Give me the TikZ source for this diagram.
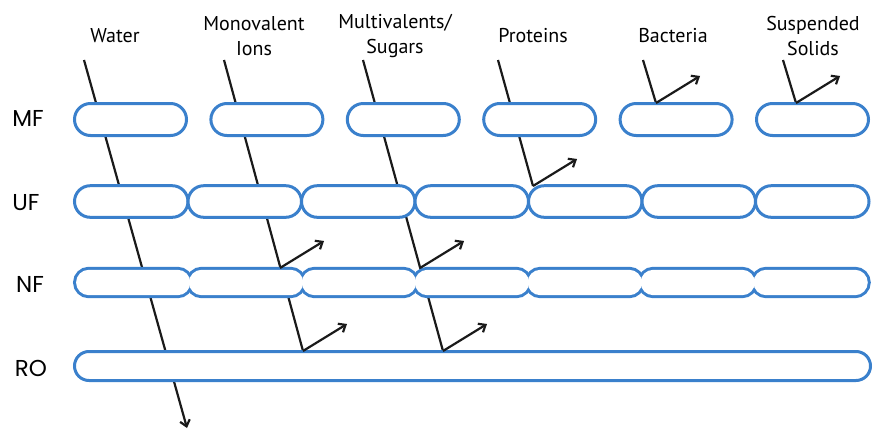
\documentclass[tikz,border=0pt]{standalone}
\usepackage{fontspec}
\setmainfont{PT Sans}
\newfontfamily\rowfont{Poppins}
\usepackage{xcolor}
\usetikzlibrary{arrows.meta,positioning,shapes.misc}
\definecolor{capblue}{RGB}{58,128,204}
\definecolor{flowblack}{RGB}{26,26,26}

\begin{document}
\begin{tikzpicture}[
  x=1pt,y=-1pt,
  >={Straight Barb[length=6pt,width=10pt]},
  lbl/.style={font=\fontsize{20}{25}\selectfont,align=center,inner sep=0pt},
  rowlbl/.style={font=\rowfont\fontsize{23}{27}\selectfont,inner sep=0pt},
  capsule/.style={rounded rectangle,draw=capblue,fill=white,line width=3pt,
              inner sep=0pt,outer sep=0pt},
  mfcap/.style={capsule,minimum width=112pt,minimum height=32pt},
  ufcap/.style={capsule,minimum width=113.5pt,minimum height=31.6pt},
  nfout/.style={rounded rectangle,draw=capblue,line width=6pt,inner sep=0pt,
                outer sep=0pt,minimum width=114.3pt,minimum height=25.4pt},
  nfin/.style={rounded rectangle,fill=white,inner sep=0pt,outer sep=0pt,
               minimum width=114.3pt,minimum height=25.4pt},
  flow/.style={draw=flowblack,line width=2.2pt}
]
\useasboundingbox (0,0) rectangle (875,431);

%% labels
\node[lbl] (water) at (115,36) {Water};
\node[lbl] (mono)  at (254,36) {Monovalent\\Ions};
\node[lbl] (multi) at (395,36) {Multivalents/\\Sugars};
\node[lbl] (prot)  at (533,36) {Proteins};
\node[lbl] (bact)  at (673,36) {Bacteria};
\node[lbl] (susp)  at (813,36) {Suspended\\Solids};

\node[rowlbl] (mfl) at (28,118) {MF};
\node[rowlbl] (ufl) at (26,203) {UF};
\node[rowlbl] (nfl) at (30,284) {NF};
\node[rowlbl] (rol) at (31,368) {RO};

%% flow points
\coordinate (waterS) at (84,60);
\coordinate (waterE) at (187,428);
\coordinate (monoS)  at (224,60);
\coordinate (monoNF) at (280,268);
\coordinate (monoRO) at (303,351);
\coordinate (multiS)  at (363,60);
\coordinate (multiNF) at (420,268);
\coordinate (multiRO) at (443,351);
\coordinate (protS)  at (498,60);
\coordinate (protUF) at (533,186);
\coordinate (bactS)  at (643,60);
\coordinate (bactMF) at (656,103);
\coordinate (suspS)  at (783,60);
\coordinate (suspMF) at (796,103);

\draw[flow,->] (waterS) -- (waterE);
\draw[flow] (monoS) -- (monoRO);
\draw[flow] (multiS) -- (multiRO);
\draw[flow] (protS) -- (protUF);
\draw[flow] (bactS) -- (bactMF);
\draw[flow] (suspS) -- (suspMF);

%% MF row
\node[mfcap] (mf1) at (130.5,119.5) {};
\node[mfcap,right=24.4pt of mf1] (mf2) {};
\node[mfcap,right=24.4pt of mf2] (mf3) {};
\node[mfcap,right=24.4pt of mf3] (mf4) {};
\node[mfcap,right=24.4pt of mf4] (mf5) {};
\node[mfcap,right=24.4pt of mf5] (mf6) {};

%% UF row
\node[ufcap] (uf1) at (131.25,201.5) {};
\node[ufcap,right=0pt of uf1] (uf2) {};
\node[ufcap,right=0pt of uf2] (uf3) {};
\node[ufcap,right=0pt of uf3] (uf4) {};
\node[ufcap,right=0pt of uf4] (uf5) {};
\node[ufcap,right=0pt of uf5] (uf6) {};
\node[ufcap,right=0pt of uf6] (uf7) {};

%% NF row (outline of the joined capsules)
\node[nfout] (nfo1) at (133.2,282.5) {};
\node[nfout,right=-1.4pt of nfo1] (nfo2) {};
\node[nfout,right=-1.4pt of nfo2] (nfo3) {};
\node[nfout,right=-1.4pt of nfo3] (nfo4) {};
\node[nfout,right=-1.4pt of nfo4] (nfo5) {};
\node[nfout,right=-1.4pt of nfo5] (nfo6) {};
\node[nfout,right=-1.4pt of nfo6] (nfo7) {};
\node[nfin] (nf1) at (nfo1) {};
\node[nfin] (nf2) at (nfo2) {};
\node[nfin] (nf3) at (nfo3) {};
\node[nfin] (nf4) at (nfo4) {};
\node[nfin] (nf5) at (nfo5) {};
\node[nfin] (nf6) at (nfo6) {};
\node[nfin] (nf7) at (nfo7) {};

%% RO row
\node[capsule,minimum width=796pt,minimum height=29pt] (ro) at (472.5,366) {};

%% rejected parts
\draw[flow,->] (bactMF)  -- ++(44,-27);
\draw[flow,->] (suspMF)  -- ++(44,-27);
\draw[flow,->] (protUF)  -- ++(44,-27);
\draw[flow,->] (monoNF)  -- ++(44,-27);
\draw[flow,->] (multiNF) -- ++(44,-27);
\draw[flow,->] (monoRO)  -- ++(44,-27);
\draw[flow,->] (multiRO) -- ++(44,-27);

\end{tikzpicture}
\end{document}
